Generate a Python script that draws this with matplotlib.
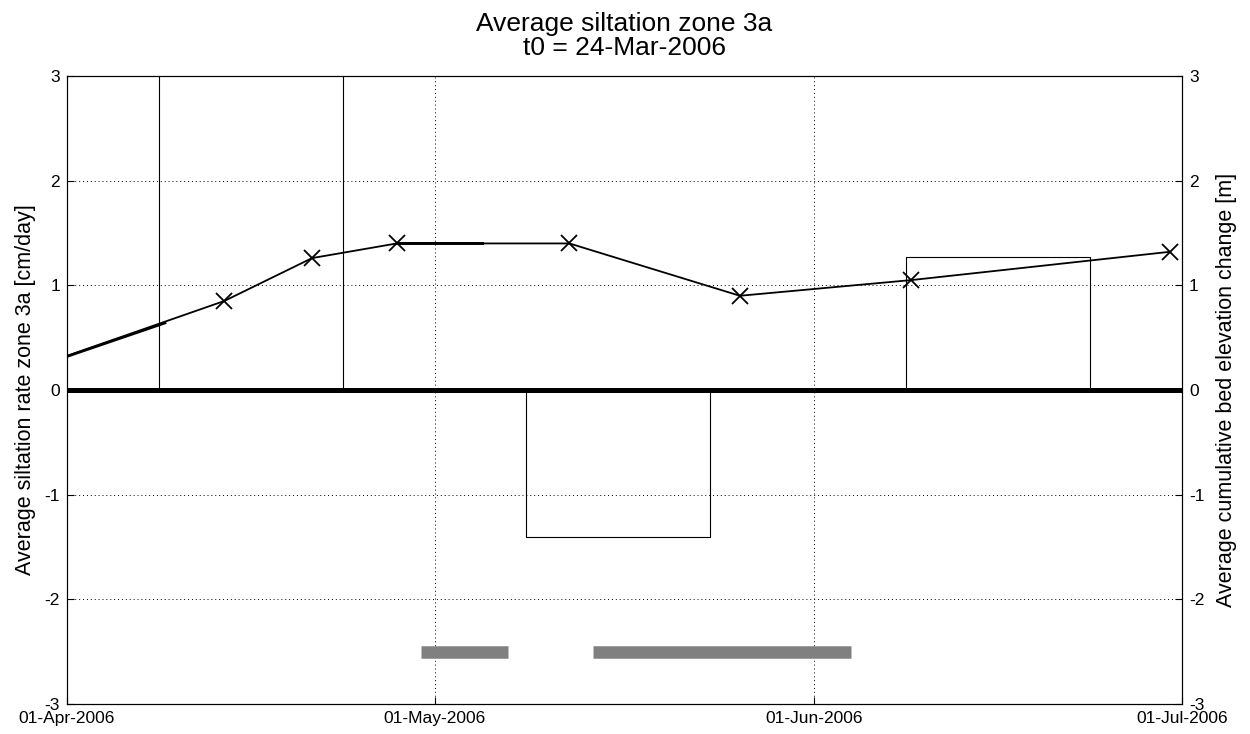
import numpy as np
import matplotlib
matplotlib.use('Agg')
import matplotlib.pyplot as plt
import matplotlib.dates as mdates
import pandas as pd

plt.rcParams['font.family'] = ['Liberation Sans', 'DejaVu Sans']
plt.rcParams['axes.unicode_minus'] = False

# monthly average siltation rate [cm/day], bars centred mid-month, 15 days wide
bar_dates = pd.to_datetime(['2006-04-16 00:00', '2006-05-16 00:00', '2006-06-16 00:00'])
bar_rates = [3.6, -1.40, 1.27]
bar_width_days = 15

# cumulative bed elevation change [m]
cum_dates = pd.to_datetime(['2006-03-24 00:00', '2006-04-13 20:00', '2006-04-21 00:00',
                            '2006-04-27 22:00', '2006-05-12 00:00', '2006-05-25 22:00',
                            '2006-06-08 22:00', '2006-06-30 00:00'])
cum_vals = [0.0, 0.85, 1.26, 1.40, 1.40, 0.90, 1.05, 1.32]

# short overlapping trace of the second survey
ovl_a_dates = pd.to_datetime(['2006-03-24 00:00', '2006-04-09 00:00'])
ovl_a_vals = [0.0, 0.64]
ovl_b_dates = pd.to_datetime(['2006-04-27 22:00', '2006-05-04 20:00'])
ovl_b_vals = [1.40, 1.40]

# dredging periods
dredge_start = pd.to_datetime(['2006-04-29 22:00', '2006-05-13 22:00'])
dredge_end = pd.to_datetime(['2006-05-07 00:00', '2006-06-04 00:00'])
dredge_level = -2.5

fig = plt.figure(figsize=(12.5, 7.34), dpi=100)
ax = fig.add_axes([0.0536, 0.0409, 0.8920, 0.8556])

for d, r in zip(bar_dates, bar_rates):
    left = d - pd.Timedelta(days=bar_width_days / 2)
    right = d + pd.Timedelta(days=bar_width_days / 2)
    ax.plot([left, left, right, right], [0, r, r, 0], color='black', lw=0.8, zorder=2)

ax.axhline(0, color='black', lw=3.6, zorder=3)

for s, e in zip(dredge_start, dredge_end):
    ax.plot([s, e], [dredge_level, dredge_level], color='#808080', lw=9,
            solid_capstyle='butt', zorder=2)

ax2 = ax.twinx()
ax2.plot(cum_dates, cum_vals, color='black', lw=1.3, marker='x', ms=11, mew=1.3, zorder=4)
ax2.plot(ovl_a_dates, ovl_a_vals, color='black', lw=1.9, zorder=4)
ax2.plot(ovl_b_dates, ovl_b_vals, color='black', lw=2.1, zorder=4)

xmin, xmax = pd.Timestamp('2006-04-01'), pd.Timestamp('2006-07-01')
for a in (ax, ax2):
    a.set_xlim(xmin, xmax)
    a.set_ylim(-3, 3)
    a.set_yticks(range(-3, 4))
    a.tick_params(direction='in', labelsize=12.5, length=5, pad=5)

xt = pd.to_datetime(['2006-04-01', '2006-05-01', '2006-06-01', '2006-07-01'])
ax.set_xticks(xt)
ax.xaxis.set_major_formatter(mdates.DateFormatter('%d-%b-%Y'))
ax.tick_params(axis='x', pad=5)
ax.grid(True, linestyle=(0, (1, 3)), color='black', lw=0.7)

ax.set_ylabel('Average siltation rate zone 3a [cm/day]', fontsize=15.5, labelpad=6)
ax2.set_ylabel('Average cumulative bed elevation change [m]', fontsize=15.5, labelpad=8)
ax.set_title('Average siltation zone 3a\nt0 = 24-Mar-2006', fontsize=19, pad=15, linespacing=1.0)

for a in (ax, ax2):
    for sp in a.spines.values():
        sp.set_linewidth(0.8)

fig.savefig('out.png', dpi=100)
